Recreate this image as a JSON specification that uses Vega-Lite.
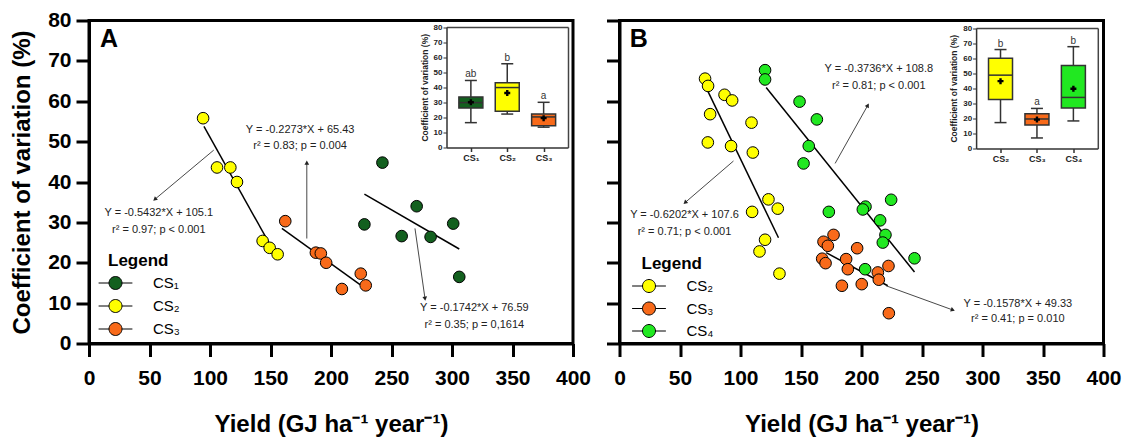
{
 "$schema": "https://vega.github.io/schema/vega-lite/v6.json",
 "background": "white",
 "padding": {"left": 9, "top": 7.5, "right": 0, "bottom": 0},
 "spacing": 10.5,
 "config": {"font": "Liberation Sans", "view": {"stroke": "black", "strokeWidth": 3}, "axis": {"grid": false, "labelFont": "Liberation Sans", "titleFont": "Liberation Sans"}},
 "resolve": {"scale": {"fill": "independent"}, "legend": {"fill": "independent"}},
 "datasets": {
  "ptsA": [
   {"s": "CS₂", "x": 94.3, "y": 55.8}, {"s": "CS₂", "x": 105.8, "y": 43.6}, {"s": "CS₂", "x": 116.8, "y": 43.6}, {"s": "CS₂", "x": 122.3, "y": 40.0}, {"s": "CS₂", "x": 143.5, "y": 25.4}, {"s": "CS₂", "x": 149.3, "y": 23.7}, {"s": "CS₂", "x": 155.9, "y": 22.1},
   {"s": "CS₃", "x": 162.2, "y": 30.3}, {"s": "CS₃", "x": 187.5, "y": 22.5}, {"s": "CS₃", "x": 191.6, "y": 22.3}, {"s": "CS₃", "x": 196.0, "y": 20.0}, {"s": "CS₃", "x": 224.6, "y": 17.3}, {"s": "CS₃", "x": 228.7, "y": 14.4}, {"s": "CS₃", "x": 209.0, "y": 13.5},
   {"s": "CS₁", "x": 242.5, "y": 44.8}, {"s": "CS₁", "x": 270.8, "y": 34.0}, {"s": "CS₁", "x": 227.6, "y": 29.5}, {"s": "CS₁", "x": 301.0, "y": 29.7}, {"s": "CS₁", "x": 258.4, "y": 26.6}, {"s": "CS₁", "x": 282.3, "y": 26.4}, {"s": "CS₁", "x": 306.0, "y": 16.5}
  ],
  "linesA": [
   {"s": "CS₂", "x": 95, "y": 53.8, "x2": 156, "y2": 21.0},
   {"s": "CS₃", "x": 159.4, "y": 28.5, "x2": 224, "y2": 14.6},
   {"s": "CS₁", "x": 227.6, "y": 37.0, "x2": 306, "y2": 23.4}
  ],
  "arrowsA": [
   {"id": 1, "x": 103.1, "y": 47.9, "x2": 54.4, "y2": 35.7},
   {"id": 2, "x": 180, "y": 26.0, "x2": 180, "y2": 44.8},
   {"id": 3, "x": 269.4, "y": 28.5, "x2": 277.7, "y2": 11.1}
  ],
  "textA": [
   {"x": 57.7, "y": 32.2, "t": "Y = -0.5432*X + 105.1"}, {"x": 57.7, "y": 28.1, "t": "r² = 0.97; p < 0.001"},
   {"x": 174.5, "y": 53.0, "t": "Y = -0.2273*X + 65.43"}, {"x": 174.5, "y": 48.9, "t": "r² = 0.83; p = 0.004"},
   {"x": 318.5, "y": 8.8, "t": "Y = -0.1742*X + 76.59"}, {"x": 318.5, "y": 4.7, "t": "r² = 0.35; p = 0,1614"}
  ],
  "letterA": [{"x": 9, "y": 75.5, "t": "A"}],
  "boxA": [
   {"s": "CS₁", "lo": 16.5, "q1": 26.2, "med": 29.8, "q3": 33.6, "hi": 44.5, "mean": 30.0, "lab": "ab"},
   {"s": "CS₂", "lo": 22.2, "q1": 24.0, "med": 39.8, "q3": 43.0, "hi": 55.6, "mean": 36.2, "lab": "b"},
   {"s": "CS₃", "lo": 13.5, "q1": 14.5, "med": 20.3, "q3": 22.2, "hi": 30.0, "mean": 19.5, "lab": "a"}
  ],
  "ptsB": [
   {"s": "CS₂", "x": 70.7, "y": 65.6}, {"s": "CS₂", "x": 73.2, "y": 63.8}, {"s": "CS₂", "x": 86.8, "y": 61.6}, {"s": "CS₂", "x": 93.1, "y": 60.2}, {"s": "CS₂", "x": 74.9, "y": 56.8}, {"s": "CS₂", "x": 109.1, "y": 54.7}, {"s": "CS₂", "x": 73.0, "y": 49.8}, {"s": "CS₂", "x": 92.2, "y": 48.9}, {"s": "CS₂", "x": 110.2, "y": 47.3}, {"s": "CS₂", "x": 123.1, "y": 35.7}, {"s": "CS₂", "x": 130.8, "y": 33.4}, {"s": "CS₂", "x": 109.6, "y": 32.6}, {"s": "CS₂", "x": 120.3, "y": 25.7}, {"s": "CS₂", "x": 115.7, "y": 22.8}, {"s": "CS₂", "x": 132.2, "y": 17.3},
   {"s": "CS₃", "x": 176.9, "y": 26.9}, {"s": "CS₃", "x": 168.6, "y": 25.2}, {"s": "CS₃", "x": 172.2, "y": 24.2}, {"s": "CS₃", "x": 196.4, "y": 23.6}, {"s": "CS₃", "x": 167.5, "y": 21.0}, {"s": "CS₃", "x": 170.3, "y": 19.9}, {"s": "CS₃", "x": 187.3, "y": 20.9}, {"s": "CS₃", "x": 188.7, "y": 18.4}, {"s": "CS₃", "x": 222.3, "y": 19.2}, {"s": "CS₃", "x": 213.5, "y": 17.6}, {"s": "CS₃", "x": 214.3, "y": 15.8}, {"s": "CS₃", "x": 183.8, "y": 14.3}, {"s": "CS₃", "x": 200.2, "y": 14.7}, {"s": "CS₃", "x": 222.6, "y": 7.5},
   {"s": "CS₄", "x": 120.3, "y": 67.7}, {"s": "CS₄", "x": 120.3, "y": 65.4}, {"s": "CS₄", "x": 148.8, "y": 59.9}, {"s": "CS₄", "x": 163.1, "y": 55.5}, {"s": "CS₄", "x": 156.4, "y": 48.9}, {"s": "CS₄", "x": 152.1, "y": 44.6}, {"s": "CS₄", "x": 203.3, "y": 33.9}, {"s": "CS₄", "x": 201.1, "y": 33.2}, {"s": "CS₄", "x": 224.5, "y": 35.6}, {"s": "CS₄", "x": 173.0, "y": 32.6}, {"s": "CS₄", "x": 215.4, "y": 30.5}, {"s": "CS₄", "x": 219.8, "y": 26.9}, {"s": "CS₄", "x": 217.6, "y": 25.0}, {"s": "CS₄", "x": 203.0, "y": 18.4}, {"s": "CS₄", "x": 243.8, "y": 21.1}
  ],
  "linesB": [
   {"s": "CS₂", "x": 73, "y": 62.5, "x2": 131.4, "y2": 26.2},
   {"s": "CS₄", "x": 121.2, "y": 63.4, "x2": 243.8, "y2": 17.7},
   {"s": "CS₃", "x": 170.8, "y": 22.5, "x2": 221.7, "y2": 14.3}
  ],
  "arrowsB": [
   {"id": 1, "x": 94.2, "y": 45.2, "x2": 54.2, "y2": 34.9},
   {"id": 2, "x": 178.2, "y": 44.6, "x2": 205.2, "y2": 59.0},
   {"id": 3, "x": 220.3, "y": 14.3, "x2": 275.5, "y2": 8.3}
  ],
  "textB": [
   {"x": 53.7, "y": 31.8, "t": "Y = -0.6202*X + 107.6"}, {"x": 53.7, "y": 27.6, "t": "r² = 0.71; p < 0.001"},
   {"x": 214.3, "y": 67.9, "t": "Y = -0.3736*X + 108.8"}, {"x": 214.3, "y": 63.8, "t": "r² = 0.81; p < 0.001"},
   {"x": 329.2, "y": 9.9, "t": "Y = -0.1578*X + 49.33"}, {"x": 329.2, "y": 6.0, "t": "r² = 0.41; p = 0.010"}
  ],
  "letterB": [{"x": 8.5, "y": 75.5, "t": "B"}],
  "boxB": [
   {"s": "CS₂", "lo": 17.2, "q1": 32.6, "med": 48.7, "q3": 60.0, "hi": 65.7, "mean": 44.7, "lab": "b"},
   {"s": "CS₃", "lo": 7.0, "q1": 15.6, "med": 19.6, "q3": 23.1, "hi": 26.6, "mean": 19.2, "lab": "a"},
   {"s": "CS₄", "lo": 18.3, "q1": 26.9, "med": 33.9, "q3": 55.1, "hi": 67.6, "mean": 39.7, "lab": "b"}
  ]
 },
 "hconcat": [
  {
   "width": 484, "height": 323,
   "resolve": {"scale": {"x": "independent", "y": "independent"}},
   "layer": [
    {
     "layer": [
      {
       "data": {"name": "linesA"},
       "mark": {"type": "rule", "color": "black", "strokeWidth": 1.5},
       "encoding": {
        "x": {"field": "x", "type": "quantitative", "scale": {"domain": [0, 400], "nice": false, "zero": false},
         "axis": {"orient": "bottom", "tickCount": 16, "values": [0,25,50,75,100,125,150,175,200,225,250,275,300,325,350,375,400], "labelExpr": "datum.value % 50 === 0 ? datum.label : ''", "ticks": true, "tickSize": 13, "tickWidth": 3, "tickColor": "#000000", "domainWidth": 3, "domainColor": "black", "labelFontSize": 21, "labelFontWeight": "bold", "labelColor": "black", "labelPadding": 11, "labelFlush": false, "labelOverlap": false, "title": "Yield (GJ ha⁻¹ year⁻¹)", "titleFontSize": 24, "titleFontWeight": "bold", "titleColor": "black", "titlePadding": 24}},
        "y": {"field": "y", "type": "quantitative", "scale": {"domain": [0, 80], "nice": false, "zero": false},
         "axis": {"orient": "left", "tickCount": 16, "values": [0,5,10,15,20,25,30,35,40,45,50,55,60,65,70,75,80], "labelExpr": "datum.value % 10 === 0 ? datum.label : ''", "ticks": true, "tickSize": 13, "tickWidth": 3, "tickColor": "#000000", "domainWidth": 3, "domainColor": "black", "labelFontSize": 21, "labelFontWeight": "bold", "labelColor": "black", "labelPadding": 5, "labelFlush": false, "labelOverlap": false, "title": "Coefficient of variation (%)", "titleFontSize": 24, "titleFontWeight": "bold", "titleColor": "black", "titlePadding": 13}},
        "x2": {"field": "x2"}, "y2": {"field": "y2"}
       }
      },
      {
       "data": {"name": "arrowsA"},
       "mark": {"type": "rule", "color": "#333333", "strokeWidth": 0.9},
       "encoding": {"x": {"field": "x", "type": "quantitative"}, "y": {"field": "y", "type": "quantitative"}, "x2": {"field": "x2"}, "y2": {"field": "y2"}}
      },
      {
       "data": {"name": "arrowsA"}, "transform": [{"filter": "datum.id === 1"}],
       "mark": {"type": "point", "shape": "triangle-up", "filled": true, "color": "#222222", "opacity": 1, "size": 22, "angle": 230},
       "encoding": {"x": {"field": "x2", "type": "quantitative"}, "y": {"field": "y2", "type": "quantitative"}}
      },
      {
       "data": {"name": "arrowsA"}, "transform": [{"filter": "datum.id === 2"}],
       "mark": {"type": "point", "shape": "triangle-up", "filled": true, "color": "#222222", "opacity": 1, "size": 22, "angle": 0},
       "encoding": {"x": {"field": "x2", "type": "quantitative"}, "y": {"field": "y2", "type": "quantitative"}}
      },
      {
       "data": {"name": "arrowsA"}, "transform": [{"filter": "datum.id === 3"}],
       "mark": {"type": "point", "shape": "triangle-up", "filled": true, "color": "#222222", "opacity": 1, "size": 22, "angle": 172},
       "encoding": {"x": {"field": "x2", "type": "quantitative"}, "y": {"field": "y2", "type": "quantitative"}}
      },
      {
       "data": {"name": "ptsA"},
       "mark": {"type": "circle", "size": 135, "stroke": "black", "strokeWidth": 1, "opacity": 1},
       "encoding": {
        "x": {"field": "x", "type": "quantitative"},
        "y": {"field": "y", "type": "quantitative"},
        "fill": {"field": "s", "type": "nominal", "scale": {"domain": ["CS₁", "CS₂", "CS₃"], "range": ["#13601f", "#ffff00", "#f86a1a"]},
         "legend": {"orient": "none", "legendX": 19, "legendY": 232, "title": "Legend", "titleFontSize": 17, "titleFontWeight": "bold", "titleColor": "black", "titlePadding": 6, "labelFontSize": 15, "labelColor": "black", "labelOffset": 30, "rowPadding": 6, "symbolType": "M-2.6,0L-1,0M1,0L2.6,0M-1,0A1,1,0,1,0,1,0A1,1,0,1,0,-1,0Z", "symbolSize": 169, "symbolStrokeColor": "black", "symbolStrokeWidth": 1, "symbolOpacity": 1, "padding": 0}}
       }
      },
      {
       "data": {"name": "textA"},
       "mark": {"type": "text", "fontSize": 11, "color": "#222222", "align": "center", "baseline": "middle"},
       "encoding": {"x": {"field": "x", "type": "quantitative"}, "y": {"field": "y", "type": "quantitative"}, "text": {"field": "t"}}
      },
      {
       "data": {"name": "letterA"},
       "mark": {"type": "text", "fontSize": 25, "fontWeight": "bold", "color": "black", "align": "left", "baseline": "middle"},
       "encoding": {"x": {"field": "x", "type": "quantitative"}, "y": {"field": "y", "type": "quantitative"}, "text": {"field": "t"}}
      }
     ]
    },
    {
     "data": {"name": "boxA"},
     "resolve": {"axis": {"x": "independent", "y": "independent"}},
     "layer": [
      {
       "mark": {"type": "rule", "color": "#333333", "strokeWidth": 1.5},
       "encoding": {
        "x": {"field": "s", "type": "nominal", "sort": null, "scale": {"type": "point", "domain": ["CS₁", "CS₂", "CS₃"], "range": [357.5, 479], "padding": 0.67},
         "axis": {"orient": "bottom", "offset": -196, "ticks": true, "tickSize": 4, "tickColor": "#333333", "tickWidth": 1.5, "domainColor": "#333333", "domainWidth": 1.5, "labelFontSize": 9, "labelFontWeight": "bold", "labelColor": "#222222", "labelPadding": 2, "labelAngle": 0, "title": null}},
        "y": {"field": "lo", "type": "quantitative", "scale": {"domain": [0, 80], "range": [127, 6.5], "nice": false, "zero": false},
         "axis": {"orient": "left", "offset": -357.5, "tickCount": 16, "values": [0,5,10,15,20,25,30,35,40,45,50,55,60,65,70,75,80], "labelExpr": "datum.value % 10 === 0 ? datum.label : ''", "ticks": true, "tickSize": 3.5, "tickWidth": 1, "tickColor": "#333333", "domainColor": "#333333", "domainWidth": 1.5, "labelFontSize": 8, "labelFontWeight": "bold", "labelColor": "#222222", "labelPadding": 1, "labelFlush": false, "labelOverlap": false, "title": "Coefficient of variation (%)", "titleFontSize": 8.5, "titleFontWeight": "bold", "titleColor": "#222222", "titlePadding": 4}},
        "y2": {"field": "hi"}
       }
      },
      {
       "mark": {"type": "tick", "color": "#333333", "size": 12, "thickness": 1.5, "opacity": 1},
       "encoding": {"x": {"field": "s", "type": "nominal", "sort": null, "axis": null}, "y": {"field": "lo", "type": "quantitative", "axis": null}}
      },
      {
       "mark": {"type": "tick", "color": "#333333", "size": 12, "thickness": 1.5, "opacity": 1},
       "encoding": {"x": {"field": "s", "type": "nominal", "sort": null, "axis": null}, "y": {"field": "hi", "type": "quantitative", "axis": null}}
      },
      {
       "mark": {"type": "bar", "size": 24, "stroke": "#333333", "strokeWidth": 1.5},
       "encoding": {"x": {"field": "s", "type": "nominal", "sort": null, "axis": null}, "y": {"field": "q1", "type": "quantitative", "axis": null}, "y2": {"field": "q3"}, "fill": {"field": "s", "type": "nominal", "legend": null}}
      },
      {
       "mark": {"type": "tick", "color": "#333333", "size": 24, "thickness": 1.5, "opacity": 1},
       "encoding": {"x": {"field": "s", "type": "nominal", "sort": null, "axis": null}, "y": {"field": "med", "type": "quantitative", "axis": null}}
      },
      {
       "mark": {"type": "point", "shape": "cross", "filled": true, "color": "black", "size": 36, "opacity": 1},
       "encoding": {"x": {"field": "s", "type": "nominal", "sort": null, "axis": null}, "y": {"field": "mean", "type": "quantitative", "axis": null}}
      },
      {
       "mark": {"type": "text", "fontSize": 10, "color": "#333333", "baseline": "bottom", "dy": -1},
       "encoding": {
        "x": {"field": "s", "type": "nominal", "sort": null, "axis": {"orient": "top", "offset": -6.5, "ticks": false, "labels": false, "title": null, "domainColor": "#444444", "domainWidth": 1.5}},
        "y": {"field": "hi", "type": "quantitative", "axis": {"orient": "right", "offset": -5, "ticks": false, "labels": false, "title": null, "domainColor": "#444444", "domainWidth": 1.5}},
        "text": {"field": "lab"}
       }
      }
     ]
    }
   ]
  },
  {
   "width": 484, "height": 323,
   "resolve": {"scale": {"x": "independent", "y": "independent"}},
   "layer": [
    {
     "layer": [
      {
       "data": {"name": "linesB"},
       "mark": {"type": "rule", "color": "black", "strokeWidth": 1.5},
       "encoding": {
        "x": {"field": "x", "type": "quantitative", "scale": {"domain": [0, 400], "nice": false, "zero": false},
         "axis": {"orient": "bottom", "tickCount": 16, "values": [0,25,50,75,100,125,150,175,200,225,250,275,300,325,350,375,400], "labelExpr": "datum.value % 50 === 0 ? datum.label : ''", "ticks": true, "tickSize": 13, "tickWidth": 3, "tickColor": "#000000", "domainWidth": 3, "domainColor": "black", "labelFontSize": 21, "labelFontWeight": "bold", "labelColor": "black", "labelPadding": 11, "labelFlush": false, "labelOverlap": false, "title": "Yield (GJ ha⁻¹ year⁻¹)", "titleFontSize": 24, "titleFontWeight": "bold", "titleColor": "black", "titlePadding": 24}},
        "y": {"field": "y", "type": "quantitative", "scale": {"domain": [0, 80], "nice": false, "zero": false},
         "axis": {"orient": "left", "tickCount": 16, "values": [0,5,10,15,20,25,30,35,40,45,50,55,60,65,70,75,80], "labels": false, "ticks": true, "tickSize": 13, "tickWidth": 3, "tickColor": "#000000", "domainWidth": 3, "domainColor": "black", "title": null}},
        "x2": {"field": "x2"}, "y2": {"field": "y2"}
       }
      },
      {
       "data": {"name": "arrowsB"},
       "mark": {"type": "rule", "color": "#333333", "strokeWidth": 0.9},
       "encoding": {"x": {"field": "x", "type": "quantitative"}, "y": {"field": "y", "type": "quantitative"}, "x2": {"field": "x2"}, "y2": {"field": "y2"}}
      },
      {
       "data": {"name": "arrowsB"}, "transform": [{"filter": "datum.id === 1"}],
       "mark": {"type": "point", "shape": "triangle-up", "filled": true, "color": "#222222", "opacity": 1, "size": 22, "angle": 229},
       "encoding": {"x": {"field": "x2", "type": "quantitative"}, "y": {"field": "y2", "type": "quantitative"}}
      },
      {
       "data": {"name": "arrowsB"}, "transform": [{"filter": "datum.id === 2"}],
       "mark": {"type": "point", "shape": "triangle-up", "filled": true, "color": "#222222", "opacity": 1, "size": 22, "angle": 29},
       "encoding": {"x": {"field": "x2", "type": "quantitative"}, "y": {"field": "y2", "type": "quantitative"}}
      },
      {
       "data": {"name": "arrowsB"}, "transform": [{"filter": "datum.id === 3"}],
       "mark": {"type": "point", "shape": "triangle-up", "filled": true, "color": "#222222", "opacity": 1, "size": 22, "angle": 110},
       "encoding": {"x": {"field": "x2", "type": "quantitative"}, "y": {"field": "y2", "type": "quantitative"}}
      },
      {
       "data": {"name": "ptsB"},
       "mark": {"type": "circle", "size": 135, "stroke": "black", "strokeWidth": 1, "opacity": 1},
       "encoding": {
        "x": {"field": "x", "type": "quantitative"},
        "y": {"field": "y", "type": "quantitative"},
        "fill": {"field": "s", "type": "nominal", "scale": {"domain": ["CS₂", "CS₃", "CS₄"], "range": ["#ffff00", "#f86a1a", "#21e821"]},
         "legend": {"orient": "none", "legendX": 22, "legendY": 235, "title": "Legend", "titleFontSize": 17, "titleFontWeight": "bold", "titleColor": "black", "titlePadding": 6, "labelFontSize": 15, "labelColor": "black", "labelOffset": 30, "rowPadding": 5.5, "symbolType": "M-2.6,0L-1,0M1,0L2.6,0M-1,0A1,1,0,1,0,1,0A1,1,0,1,0,-1,0Z", "symbolSize": 169, "symbolStrokeColor": "black", "symbolStrokeWidth": 1, "symbolOpacity": 1, "padding": 0}}
       }
      },
      {
       "data": {"name": "textB"},
       "mark": {"type": "text", "fontSize": 11, "color": "#222222", "align": "center", "baseline": "middle"},
       "encoding": {"x": {"field": "x", "type": "quantitative"}, "y": {"field": "y", "type": "quantitative"}, "text": {"field": "t"}}
      },
      {
       "data": {"name": "letterB"},
       "mark": {"type": "text", "fontSize": 25, "fontWeight": "bold", "color": "black", "align": "left", "baseline": "middle"},
       "encoding": {"x": {"field": "x", "type": "quantitative"}, "y": {"field": "y", "type": "quantitative"}, "text": {"field": "t"}}
      }
     ]
    },
    {
     "data": {"name": "boxB"},
     "resolve": {"axis": {"x": "independent", "y": "independent"}},
     "layer": [
      {
       "mark": {"type": "rule", "color": "#333333", "strokeWidth": 1.5},
       "encoding": {
        "x": {"field": "s", "type": "nominal", "sort": null, "scale": {"type": "point", "domain": ["CS₂", "CS₃", "CS₄"], "range": [356.6, 478.3], "padding": 0.67},
         "axis": {"orient": "bottom", "offset": -195, "ticks": true, "tickSize": 4, "tickColor": "#333333", "tickWidth": 1.5, "domainColor": "#333333", "domainWidth": 1.5, "labelFontSize": 9, "labelFontWeight": "bold", "labelColor": "#222222", "labelPadding": 2, "labelAngle": 0, "title": null}},
        "y": {"field": "lo", "type": "quantitative", "scale": {"domain": [0, 80], "range": [128, 7.5], "nice": false, "zero": false},
         "axis": {"orient": "left", "offset": -356.6, "tickCount": 16, "values": [0,5,10,15,20,25,30,35,40,45,50,55,60,65,70,75,80], "labelExpr": "datum.value % 10 === 0 ? datum.label : ''", "ticks": true, "tickSize": 3.5, "tickWidth": 1, "tickColor": "#333333", "domainColor": "#333333", "domainWidth": 1.5, "labelFontSize": 8, "labelFontWeight": "bold", "labelColor": "#222222", "labelPadding": 1, "labelFlush": false, "labelOverlap": false, "title": "Coefficient of variation (%)", "titleFontSize": 8.5, "titleFontWeight": "bold", "titleColor": "#222222", "titlePadding": 4}},
        "y2": {"field": "hi"}
       }
      },
      {
       "mark": {"type": "tick", "color": "#333333", "size": 12, "thickness": 1.5, "opacity": 1},
       "encoding": {"x": {"field": "s", "type": "nominal", "sort": null, "axis": null}, "y": {"field": "lo", "type": "quantitative", "axis": null}}
      },
      {
       "mark": {"type": "tick", "color": "#333333", "size": 12, "thickness": 1.5, "opacity": 1},
       "encoding": {"x": {"field": "s", "type": "nominal", "sort": null, "axis": null}, "y": {"field": "hi", "type": "quantitative", "axis": null}}
      },
      {
       "mark": {"type": "bar", "size": 24, "stroke": "#333333", "strokeWidth": 1.5},
       "encoding": {"x": {"field": "s", "type": "nominal", "sort": null, "axis": null}, "y": {"field": "q1", "type": "quantitative", "axis": null}, "y2": {"field": "q3"}, "fill": {"field": "s", "type": "nominal", "legend": null}}
      },
      {
       "mark": {"type": "tick", "color": "#333333", "size": 24, "thickness": 1.5, "opacity": 1},
       "encoding": {"x": {"field": "s", "type": "nominal", "sort": null, "axis": null}, "y": {"field": "med", "type": "quantitative", "axis": null}}
      },
      {
       "mark": {"type": "point", "shape": "cross", "filled": true, "color": "black", "size": 36, "opacity": 1},
       "encoding": {"x": {"field": "s", "type": "nominal", "sort": null, "axis": null}, "y": {"field": "mean", "type": "quantitative", "axis": null}}
      },
      {
       "mark": {"type": "text", "fontSize": 10, "color": "#333333", "baseline": "bottom", "dy": -1},
       "encoding": {
        "x": {"field": "s", "type": "nominal", "sort": null, "axis": {"orient": "top", "offset": -7.5, "ticks": false, "labels": false, "title": null, "domainColor": "#444444", "domainWidth": 1.5}},
        "y": {"field": "hi", "type": "quantitative", "axis": {"orient": "right", "offset": -5.7, "ticks": false, "labels": false, "title": null, "domainColor": "#444444", "domainWidth": 1.5}},
        "text": {"field": "lab"}
       }
      }
     ]
    }
   ]
  }
 ]
}
